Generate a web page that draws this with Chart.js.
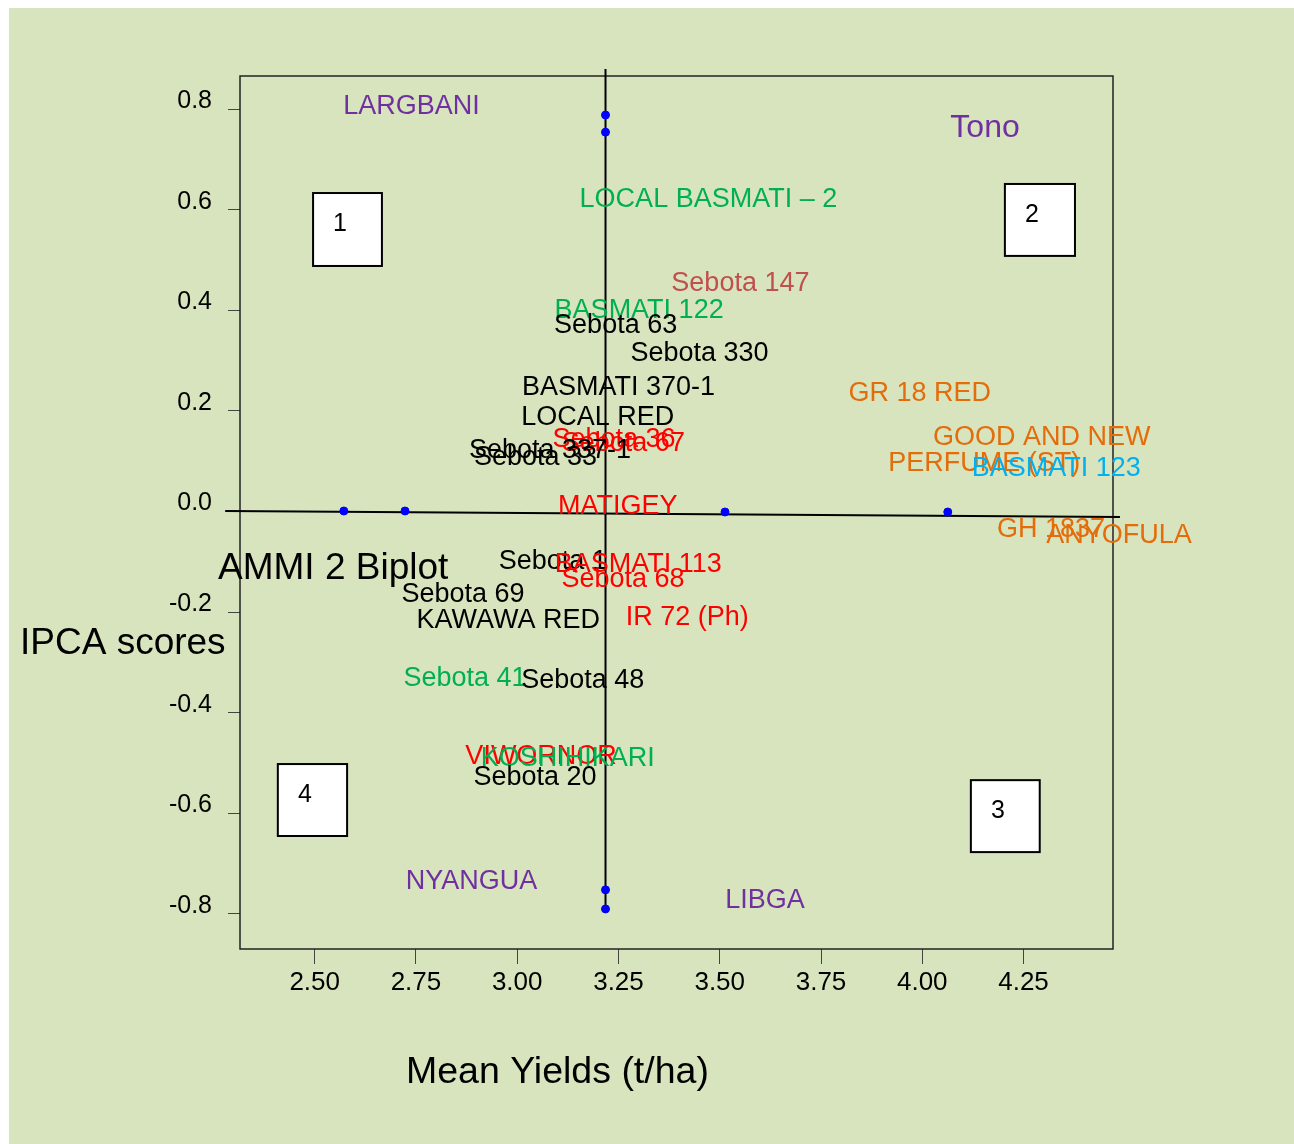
<!DOCTYPE html>
<html>
<head>
<meta charset="utf-8">
<script src="https://cdn.jsdelivr.net/npm/chart.js@4.4.0/dist/chart.umd.min.js"></script>
<style>
  html, body { margin: 0; padding: 0; background: #ffffff; }
  #wrap { position: relative; width: 1294px; height: 1144px; }
</style>
</head>
<body>
<div id="wrap"><canvas id="biplot" width="1294" height="1144"></canvas></div>
<script>
// genotype / environment labels (mean yield, IPCA score)
const labelNames = ['LARGBANI', 'Tono', 'LOCAL BASMATI – 2', 'Sebota 147', 'BASMATI 122', 'Sebota 63',
    'Sebota 330', 'BASMATI 370-1', 'LOCAL RED', 'Sebota 36', 'Sebota 67', 'Sebota 337-1', 'Sebota 33',
    'MATIGEY', 'GR 18 RED', 'GOOD AND NEW', 'PERFUME (ST)', 'BASMATI 123', 'GH 1837', 'ANYOFULA',
    'Sebota 1', 'BASMATI 113', 'Sebota 68', 'Sebota 69', 'KAWAWA RED', 'IR 72 (Ph)', 'Sebota 41',
    'Sebota 48', 'VIWORNOR', 'KOSHIHIKARI', 'Sebota 20', 'NYANGUA', 'LIBGA'];
const labelX = [2.739, 4.155, 3.472, 3.551, 3.301, 3.243,
    3.450, 3.250, 3.199, 3.239, 3.262, 3.081, 3.045,
    3.248, 3.994, 4.295, 4.153, 4.331, 4.318, 4.486,
    3.088, 3.299, 3.261, 2.866, 2.978, 3.420, 2.871,
    3.162, 3.059, 3.125, 3.044, 2.887, 3.612];
const labelY = [0.808, 0.766, 0.625, 0.458, 0.403, 0.373,
    0.317, 0.250, 0.190, 0.146, 0.140, 0.126, 0.112,
    0.013, 0.238, 0.150, 0.100, 0.089, -0.031, -0.043,
    -0.096, -0.102, -0.132, -0.162, -0.212, -0.206, -0.329,
    -0.333, -0.484, -0.488, -0.524, -0.731, -0.770];
// colour group of each label
const labelGroup = ['env', 'envBig', 'green', 'rose', 'green', 'black',
    'black', 'black', 'black', 'red', 'red', 'black', 'black',
    'red', 'orange', 'orange', 'orange', 'cyan', 'orange', 'orange',
    'black', 'red', 'red', 'black', 'black', 'red', 'green',
    'black', 'red', 'green', 'black', 'env', 'env'];

// points on the axes
const dotX = [3.218, 3.218, 2.572, 2.723, 3.513, 4.063, 3.218, 3.218];
const dotY = [0.788, 0.754, 0.001, 0.001, -0.001, -0.001, -0.752, -0.790];

// the two reference lines through the origin of the biplot
const vLineX = [3.218, 3.218];
const vLineY = [0.8795, -0.792];
const hLineX = [2.279, 4.488];
const hLineY = [0.001, -0.011];

// quadrant boxes: left, top, right, bottom (data units)
const quadNames = ['1', '2', '3', '4'];
const quadLeft = [2.496, 4.204, 4.120, 2.409];
const quadTop = [0.633, 0.651, -0.534, -0.502];
const quadRight = [2.666, 4.377, 4.290, 2.580];
const quadBottom = [0.488, 0.508, -0.677, -0.645];

const xTicks = [2.50, 2.75, 3.00, 3.25, 3.50, 3.75, 4.00, 4.25];
const yTicks = [-0.8, -0.6, -0.4, -0.2, 0.0, 0.2, 0.4, 0.6, 0.8];

const groupColors = {
    env: '#7030a0', envBig: '#7030a0', green: '#00b050', rose: '#c0504d',
    black: '#000000', red: '#ff0000', orange: '#e46c0a', cyan: '#00b0f0'
};
const FONT = '"Liberation Sans", Arial, sans-serif';

function toPoints(xs, ys) {
    return xs.map((x, i) => ({ x: x, y: ys[i] }));
}

const backgroundPlugin = {
    id: 'background',
    beforeDraw(chart) {
        const ctx = chart.ctx;
        ctx.save();
        ctx.fillStyle = '#ffffff';
        ctx.fillRect(0, 0, chart.width, chart.height);
        ctx.fillStyle = '#d7e4bd';
        ctx.fillRect(9, 8, chart.width - 9, chart.height - 8);
        ctx.restore();
    },
    beforeDatasetsDraw(chart) {
        const a = chart.chartArea;
        const ctx = chart.ctx;
        ctx.save();
        ctx.strokeStyle = '#222';
        ctx.lineWidth = 1.5;
        ctx.strokeRect(a.left, a.top, a.right - a.left, a.bottom - a.top);
        ctx.restore();
    }
};

const labelPlugin = {
    id: 'labels',
    afterDatasetsDraw(chart) {
        const ctx = chart.ctx;
        const xs = chart.scales.x, ys = chart.scales.y;
        ctx.save();

        // quadrant boxes
        for (let i = 0; i < quadNames.length; i++) {
            const l = xs.getPixelForValue(quadLeft[i]);
            const t = ys.getPixelForValue(quadTop[i]);
            const r = xs.getPixelForValue(quadRight[i]);
            const b = ys.getPixelForValue(quadBottom[i]);
            ctx.fillStyle = '#ffffff';
            ctx.fillRect(l, t, r - l, b - t);
            ctx.strokeStyle = '#000';
            ctx.lineWidth = 2;
            ctx.strokeRect(l, t, r - l, b - t);
            ctx.fillStyle = '#000';
            ctx.font = '25px ' + FONT;
            ctx.textAlign = 'center';
            ctx.textBaseline = 'middle';
            ctx.fillText(quadNames[i], l + 27, t + 31);
        }

        // genotype and environment names
        ctx.textAlign = 'center';
        ctx.textBaseline = 'middle';
        for (let i = 0; i < labelNames.length; i++) {
            const g = labelGroup[i];
            ctx.font = (g === 'envBig' ? '32px ' : '27px ') + FONT;
            ctx.fillStyle = groupColors[g];
            ctx.fillText(labelNames[i], xs.getPixelForValue(labelX[i]), ys.getPixelForValue(labelY[i]) + 2);
        }

        // titles
        ctx.fillStyle = '#000';
        ctx.font = '37px ' + FONT;
        ctx.textAlign = 'left';
        ctx.fillText('AMMI 2 Biplot', 218, 569);
        ctx.fillText('IPCA scores', 20, 644);
        ctx.font = '37.5px ' + FONT;
        ctx.fillText('Mean Yields (t/ha)', 406, 1073);
        ctx.restore();
    }
};

const ctx = document.getElementById('biplot').getContext('2d');
const biplot = new Chart(ctx, {
    type: 'scatter',
    data: {
        datasets: [
            {
                label: 'points',
                data: toPoints(dotX, dotY),
                backgroundColor: '#0000ff',
                borderColor: '#0000ff',
                pointRadius: 4,
                order: 0
            },
            {
                label: 'vertical',
                data: toPoints(vLineX, vLineY),
                showLine: true,
                borderColor: '#000',
                borderWidth: 2,
                pointRadius: 0,
                clip: false,
                order: 1
            },
            {
                label: 'horizontal',
                data: toPoints(hLineX, hLineY),
                showLine: true,
                borderColor: '#000',
                borderWidth: 2,
                pointRadius: 0,
                clip: false,
                order: 1
            }
        ]
    },
    options: {
        responsive: false,
        animation: false,
        layout: { padding: { top: 76, right: 181, left: 0, bottom: 0 } },
        plugins: {
            legend: { display: false },
            tooltip: { enabled: false }
        },
        scales: {
            x: {
                type: 'linear',
                min: 2.3156,
                max: 4.4709,
                afterBuildTicks: scale => { scale.ticks = xTicks.map(v => ({ value: v })); },
                afterFit: scale => { scale.height = 195; },
                border: { display: false },
                grid: { drawOnChartArea: false, tickLength: 15, color: '#444', lineWidth: 1 },
                ticks: {
                    color: '#000',
                    padding: 3,
                    font: { family: FONT, size: 26 },
                    callback: v => Number(v).toFixed(2)
                }
            },
            y: {
                type: 'linear',
                min: -0.8696,
                max: 0.8656,
                afterBuildTicks: scale => { scale.ticks = yTicks.map(v => ({ value: v })); },
                afterFit: scale => { scale.width = 240; },
                border: { display: false },
                grid: { drawOnChartArea: false, tickLength: 12, color: '#444', lineWidth: 1 },
                ticks: {
                    color: '#000',
                    padding: 16,
                    labelOffset: -8,
                    font: { family: FONT, size: 25 },
                    callback: v => Number(v).toFixed(1)
                }
            }
        }
    },
    plugins: [backgroundPlugin, labelPlugin]
});
</script>
</body>
</html>
